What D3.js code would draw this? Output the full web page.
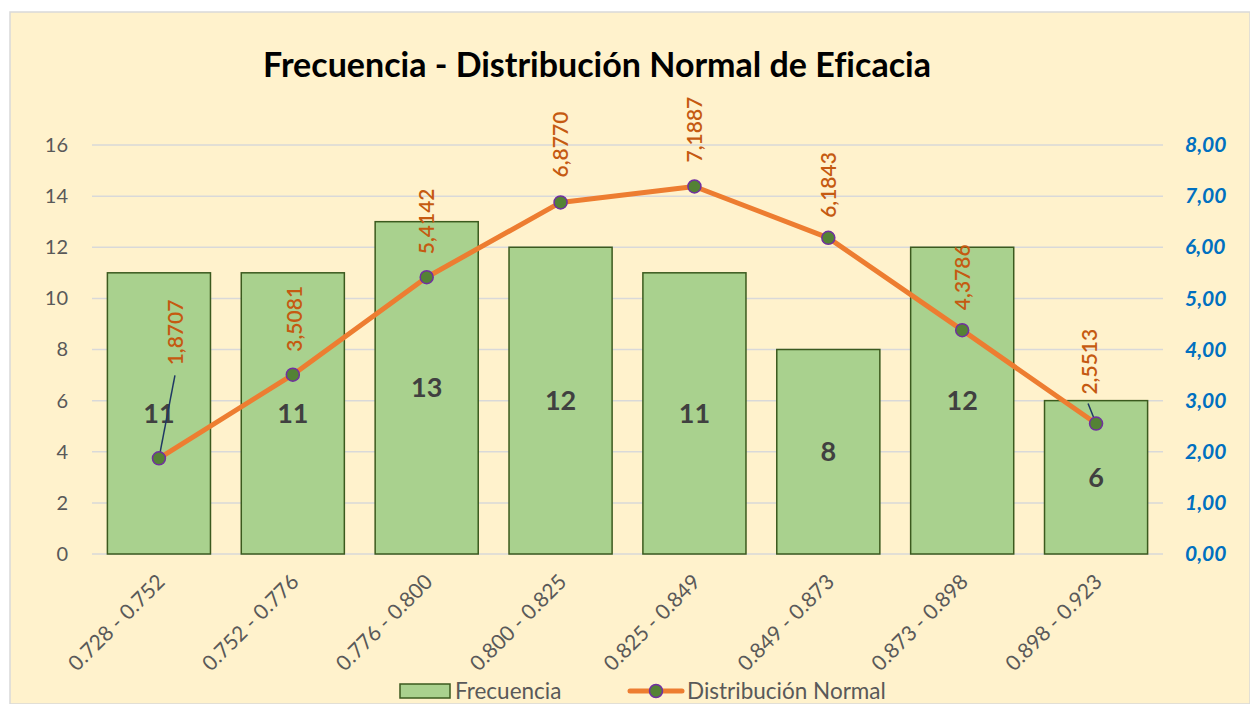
<!DOCTYPE html>
<html>
<head>
<meta charset="utf-8">
<script src="https://cdn.jsdelivr.net/npm/d3@7"></script>
<style>
  body { margin: 0; background: #ffffff; }
  svg { display: block; }
  text { font-variant-ligatures: none; }
</style>
</head>
<body>
<svg id="chart"></svg>
<script>
// Data
const categories = ["0.728 - 0.752", "0.752 - 0.776", "0.776 - 0.800", "0.800 - 0.825",
                    "0.825 - 0.849", "0.849 - 0.873", "0.873 - 0.898", "0.898 - 0.923"];
const frecuencia = [11, 11, 13, 12, 11, 8, 12, 6];
const normal = [1.8707, 3.5081, 5.4142, 6.8770, 7.1887, 6.1843, 4.3786, 2.5513];
const leftTicks = [0, 2, 4, 6, 8, 10, 12, 14, 16];
const rightTicks = [0, 1, 2, 3, 4, 5, 6, 7, 8];

const width = 1250, height = 704;
const margin = { left: 92, right: 1163, top: 145, bottom: 554 };
const font = "Lato, 'Open Sans', sans-serif";

const svg = d3.select("#chart")
  .attr("width", width)
  .attr("height", height);

// chart background
svg.append("rect")
  .attr("x", 10).attr("y", 12)
  .attr("width", width - 10).attr("height", height - 12)
  .attr("fill", "#fff2cc")
  .attr("stroke", "#d9d9d9")
  .attr("stroke-width", 1.5);

// Scales
const x = d3.scaleBand()
  .domain(categories)
  .range([margin.left, margin.right])
  .paddingInner(0.23)
  .paddingOuter(0.115);

const yL = d3.scaleLinear().domain([0, 16]).range([margin.bottom, margin.top]);
const yR = d3.scaleLinear().domain([0, 8]).range([margin.bottom, margin.top]);

// Gridlines
svg.append("g")
  .selectAll("line")
  .data(leftTicks)
  .enter()
  .append("line")
  .attr("x1", margin.left)
  .attr("x2", margin.right)
  .attr("y1", d => yL(d))
  .attr("y2", d => yL(d))
  .attr("stroke", "#d9d9d9")
  .attr("stroke-width", 1.5);

// Left axis
const axisL = svg.append("g")
  .attr("transform", `translate(${margin.left},0)`)
  .call(d3.axisLeft(yL).tickValues(leftTicks).tickSize(0).tickPadding(24));
axisL.select(".domain").remove();
axisL.selectAll("text")
  .style("font-family", font)
  .style("font-size", "20px")
  .style("fill", "#595959");

// Right axis
const axisR = svg.append("g")
  .attr("transform", `translate(${margin.right},0)`)
  .call(d3.axisRight(yR).tickValues(rightTicks).tickSize(0).tickPadding(22)
    .tickFormat(d => d3.format(".2f")(d).replace(".", ",")));
axisR.select(".domain").remove();
axisR.selectAll("text")
  .style("font-family", font)
  .style("font-size", "21px")
  .style("font-weight", "bold")
  .style("font-style", "italic")
  .style("fill", "#0070c0");

// Bars
svg.append("g")
  .selectAll("rect")
  .data(frecuencia)
  .enter()
  .append("rect")
  .attr("x", (d, i) => x(categories[i]))
  .attr("y", d => yL(d))
  .attr("width", x.bandwidth())
  .attr("height", d => yL(0) - yL(d))
  .attr("fill", "#a9d18e")
  .attr("stroke", "#3b5a1e")
  .attr("stroke-width", 1.5);

// Bar labels
svg.append("g")
  .selectAll("text")
  .data(frecuencia)
  .enter()
  .append("text")
  .attr("x", (d, i) => x(categories[i]) + x.bandwidth() / 2)
  .attr("y", d => (yL(d) + yL(0)) / 2)
  .attr("dy", "0.35em")
  .attr("text-anchor", "middle")
  .style("font-family", font)
  .style("font-size", "27px")
  .style("font-weight", "bold")
  .style("fill", "#404040")
  .text(d => d);

// Line
const cx = i => x(categories[i]) + x.bandwidth() / 2;
const line = d3.line()
  .x((d, i) => cx(i))
  .y(d => yR(d));

svg.append("path")
  .datum(normal)
  .attr("d", line)
  .attr("fill", "none")
  .attr("stroke", "#ed7d31")
  .attr("stroke-width", 5)
  .attr("stroke-linejoin", "round")
  .attr("stroke-linecap", "round");

// Leader lines for first and last labels
const leaders = [
  { i: 0, dx: 16, dy: -83 },
  { i: 7, dx: -8, dy: -20 }
];
svg.append("g")
  .selectAll("line")
  .data(leaders)
  .enter()
  .append("line")
  .attr("x1", d => cx(d.i))
  .attr("y1", d => yR(normal[d.i]))
  .attr("x2", d => cx(d.i) + d.dx)
  .attr("y2", d => yR(normal[d.i]) + d.dy)
  .attr("stroke", "#1f3864")
  .attr("stroke-width", 1.5);

// Markers
svg.append("g")
  .selectAll("circle")
  .data(normal)
  .enter()
  .append("circle")
  .attr("cx", (d, i) => cx(i))
  .attr("cy", d => yR(d))
  .attr("r", 6.5)
  .attr("fill", "#548235")
  .attr("stroke", "#7030a0")
  .attr("stroke-width", 1.5);

// Line labels (rotated)
const labelOffsets = [
  { dx: 17, dy: -93 }, { dx: 2, dy: -23 }, { dx: 0, dy: -23 }, { dx: 0, dy: -25 },
  { dx: 0, dy: -24 }, { dx: 0, dy: -20 }, { dx: 0, dy: -20 }, { dx: -6, dy: -29 }
];
svg.append("g")
  .selectAll("text")
  .data(normal)
  .enter()
  .append("text")
  .attr("transform", (d, i) =>
    `translate(${cx(i) + labelOffsets[i].dx},${yR(d) + labelOffsets[i].dy}) rotate(-90)`)
  .attr("text-anchor", "start")
  .attr("dy", "0.35em")
  .style("font-family", font)
  .style("font-size", "21px")
  .style("font-weight", "600")
  .style("fill", "#c55a11")
  .text(d => d3.format(".4f")(d).replace(".", ","));

// X axis labels
svg.append("g")
  .selectAll("text")
  .data(categories)
  .enter()
  .append("text")
  .attr("transform", d => `translate(${x(d) + x.bandwidth() / 2 + 2},${margin.bottom + 24}) rotate(-45)`)
  .attr("text-anchor", "end")
  .attr("dy", "0.35em")
  .style("font-family", font)
  .style("font-size", "21px")
  .style("fill", "#595959")
  .text(d => d);

// Title
svg.append("text")
  .attr("x", 597)
  .attr("y", 77)
  .attr("text-anchor", "middle")
  .style("font-family", font)
  .style("font-size", "34px")
  .style("font-weight", "bold")
  .style("fill", "#000000")
  .text("Frecuencia - Distribución Normal de Eficacia");

// Legend
const legend = svg.append("g");
legend.append("rect")
  .attr("x", 400).attr("y", 684)
  .attr("width", 50).attr("height", 14)
  .attr("fill", "#a9d18e")
  .attr("stroke", "#3b5a1e")
  .attr("stroke-width", 1.5);
legend.append("text")
  .attr("x", 455).attr("y", 691)
  .attr("dy", "0.35em")
  .style("font-family", font)
  .style("font-size", "22.5px")
  .style("fill", "#595959")
  .text("Frecuencia");
legend.append("line")
  .attr("x1", 630).attr("x2", 682)
  .attr("y1", 691).attr("y2", 691)
  .attr("stroke", "#ed7d31")
  .attr("stroke-width", 5)
  .attr("stroke-linecap", "round");
legend.append("circle")
  .attr("cx", 656).attr("cy", 691)
  .attr("r", 6.5)
  .attr("fill", "#548235")
  .attr("stroke", "#7030a0")
  .attr("stroke-width", 1.5);
legend.append("text")
  .attr("x", 687).attr("y", 691)
  .attr("dy", "0.35em")
  .style("font-family", font)
  .style("font-size", "22.5px")
  .style("fill", "#595959")
  .text("Distribución Normal");
</script>
</body>
</html>
